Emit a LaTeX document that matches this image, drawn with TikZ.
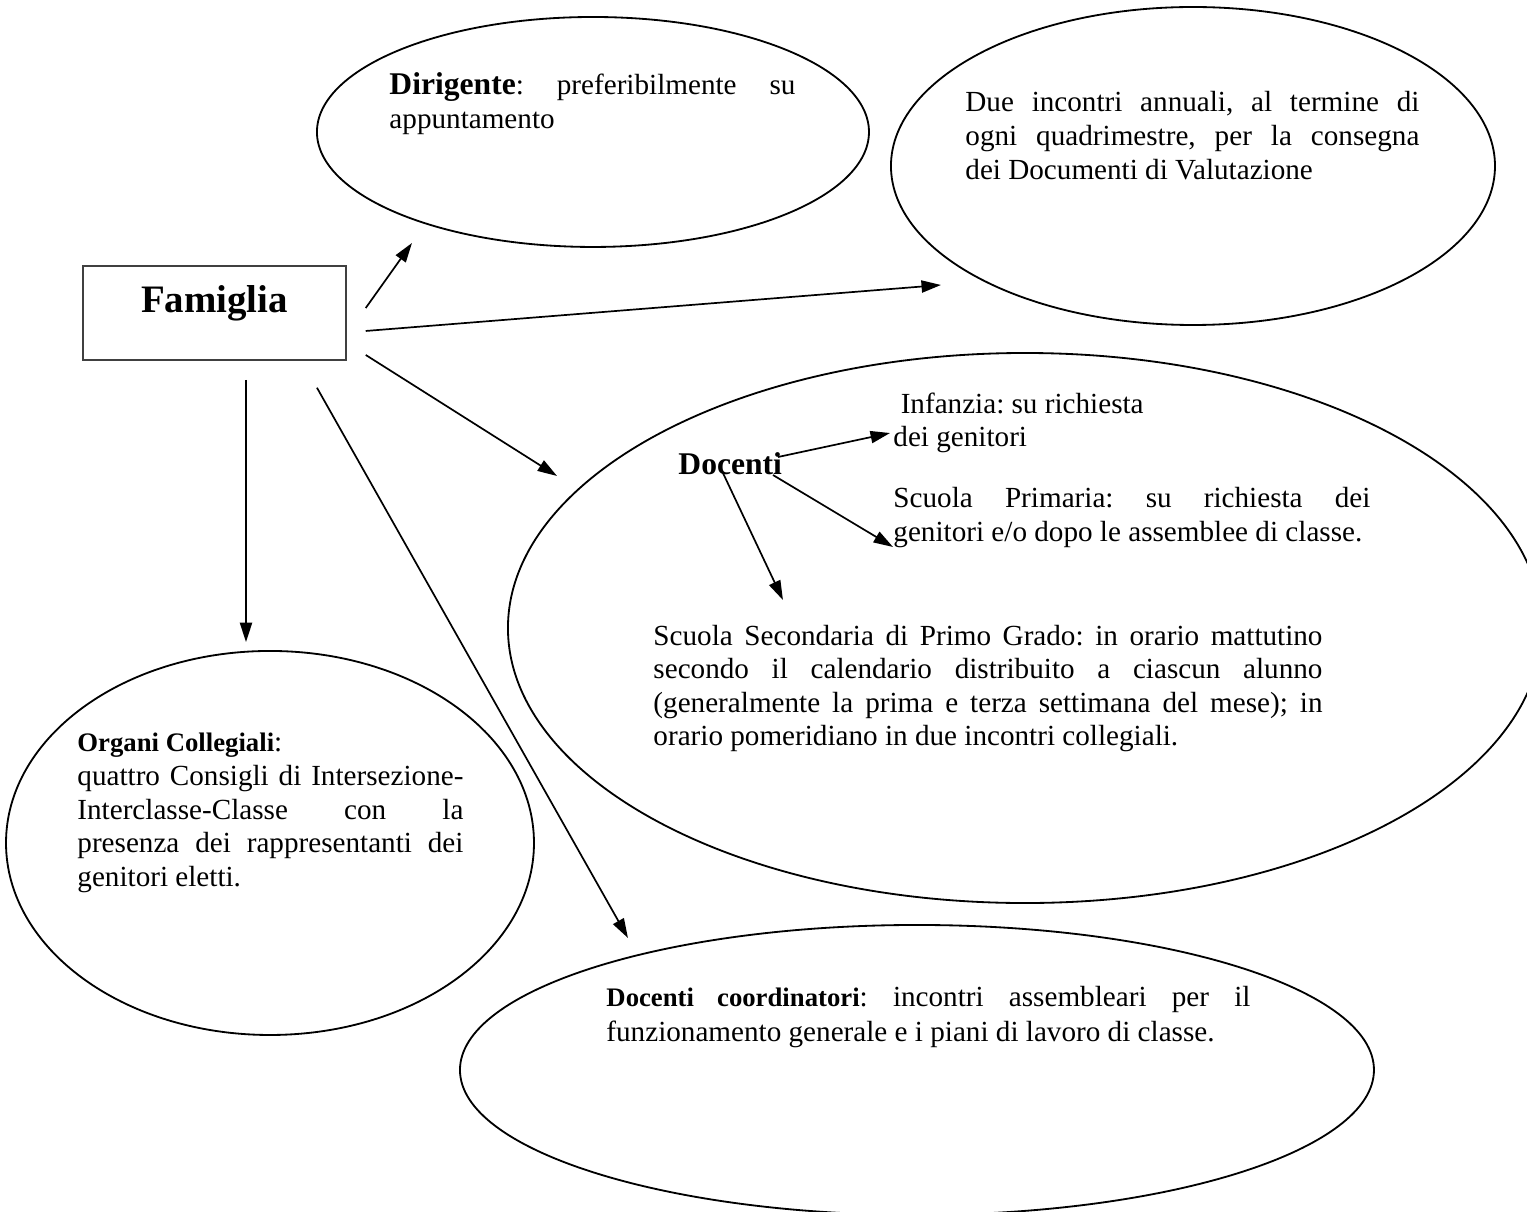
\documentclass[tikz,border=0pt]{standalone}
\usepackage{fontspec}
\setmainfont{Liberation Serif}
\usepackage{tikz}
\usetikzlibrary{shapes.geometric, arrows.meta}
\tikzstyle{boxnode} = [rectangle, draw = black!75, line width=0.6pt, inner sep=0pt,
minimum width=3.804cm, minimum height=1.36cm, text height=19.3pt, text depth=19.4pt,
font=\fontsize{16}{19}\selectfont\bfseries]
\tikzstyle{bubble} = [ellipse, draw = black, line width=0.75pt, inner sep=0pt]
\tikzstyle{txt} = [inner sep=0pt, anchor=base west, align=justify,
font=\fontsize{12}{13.8}\selectfont]
\tikzstyle{arrow} = [line width=0.7pt, -{Triangle[length=8pt,width=5pt]}]
\hyphenpenalty=10000
\exhyphenpenalty=10000
\frenchspacing

\begin{document}
\begin{tikzpicture}[node distance=2cm]
\useasboundingbox (-3.102,-13.002) rectangle (18.983,4.527);
%Calling the blocks
\node (fam) [boxnode] {Famiglia};
\node (dirig) [bubble, right of=fam, xshift=3.474cm, yshift=2.618cm,
minimum width=7.984cm, minimum height=3.326cm] {};
\node (due) [bubble, right of=fam, xshift=12.152cm, yshift=2.126cm,
minimum width=8.736cm, minimum height=4.599cm] {};
\node (doc) [bubble, right of=fam, xshift=9.722cm, yshift=-4.556cm,
minimum width=14.955cm, minimum height=7.955cm] {};
\node (org) [bubble, below of=fam, xshift=0.803cm, yshift=-5.665cm,
minimum width=7.636cm, minimum height=5.554cm] {};
\node (coord) [bubble, right of=fam, xshift=8.16cm, yshift=-10.948cm,
minimum width=13.219cm, minimum height=4.194cm] {};
% Texts inside the bubbles
\node (dirigtxt) [txt, text width=5.872cm] at (2.524,3.153)
{{\fontsize{13}{13.8}\selectfont\textbf{Dirigente}}: preferibilmente su\linebreak appuntamento};
\node (duetxt) [txt, text width=6.566cm] at (10.854,2.907)
{Due incontri annuali, al termine di\linebreak ogni quadrimestre, per la consegna\linebreak dei Documenti di Valutazione};
\node (doclbl) [txt, align=left, font=\fontsize{13}{15}\selectfont\bfseries] at (6.704,-2.343) {Docenti};
\node (inftxt) [txt, align=left] at (9.813,-1.938) {\ Infanzia: su richiesta\\dei genitori};
\node (pritxt) [txt, text width=6.899cm] at (9.813,-2.820)
{Scuola Primaria: su richiesta dei\linebreak genitori e/o dopo le assemblee di classe.};
\node (sectxt) [txt, text width=9.676cm] at (6.342,-4.802)
{Scuola Secondaria di Primo Grado: in orario mattutino\linebreak secondo il calendario distribuito a ciascun alunno\linebreak (generalmente la prima e terza settimana del mese); in\linebreak orario pomeridiano in due incontri collegiali.};
\node (orgtxt) [txt, text width=5.583cm] at (-1.989,-6.349)
{{\fontsize{11}{13.8}\selectfont\textbf{Organi Collegiali}}:\\quattro Consigli di Intersezione-\linebreak Interclasse-Classe con la\linebreak presenza dei rappresentanti dei\linebreak genitori eletti.};
\node (coordtxt) [txt, text width=9.314cm, font=\fontsize{12}{14.8}\selectfont] at (5.662,-10.023)
{{\fontsize{11}{14.8}\selectfont\textbf{Docenti coordinatori}}: incontri assembleari per il\linebreak funzionamento generale e i piani di lavoro di classe.};
% Drawing the arrows between blocks
\draw[arrow] ([xshift=0.275cm,yshift=0.072cm]fam.east) -- ([xshift=-2.618cm,yshift=-1.606cm]dirig.center);
\draw[arrow] ([xshift=0.275cm,yshift=-0.26cm]fam.east) -- ([xshift=-3.645cm,yshift=-1.721cm]due.center);
\draw[arrow] ([xshift=0.275cm,yshift=-0.607cm]fam.east) -- ([xshift=-6.768cm,yshift=2.199cm]doc.center);
\draw[arrow] ([xshift=1.482cm,yshift=-0.39cm]fam.south) -- ([xshift=-4.18cm,yshift=1.909cm]coord.center);
\draw[arrow] ([xshift=0.456cm,yshift=-0.275cm]fam.south) -- ([xshift=-0.347cm,yshift=0.115cm]org.north);
\draw[arrow] ([xshift=-0.066cm,yshift=0.26cm]doclbl.base east) -- ([xshift=-0.043cm,yshift=0.202cm]inftxt.base west);
\draw[arrow] ([xshift=-0.138cm]doclbl.base east) -- ([yshift=-0.564cm]pritxt.base west);
\draw[arrow] ([xshift=0.65cm,yshift=0.029cm]doclbl.base west) -- ([xshift=1.88cm,yshift=0.651cm]sectxt.base west);
\end{tikzpicture}
\end{document}
